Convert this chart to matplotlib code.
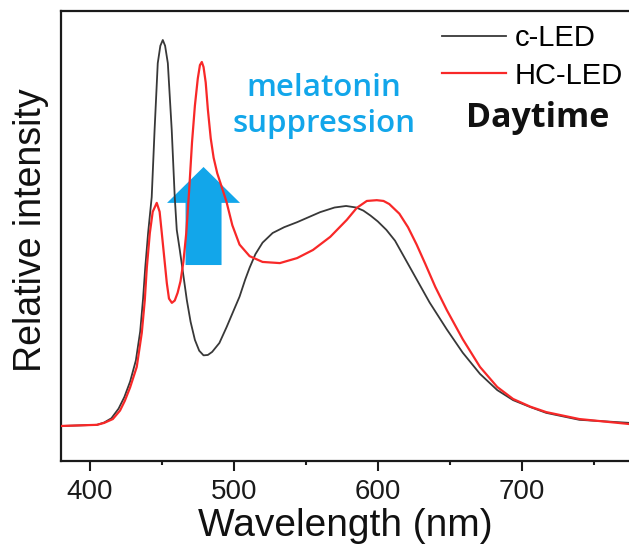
#!/usr/bin/env python3
"""Emission spectra of c-LED vs HC-LED (daytime)."""

import matplotlib
matplotlib.use('Agg')
import matplotlib.pyplot as plt

# c-LED spectrum (wavelength in nm, relative intensity)
c_led_wl = [380, 405, 410, 415, 420, 424, 428, 432, 435, 437, 438.5, 440.5, 443, 445,
            447.2, 449, 450.7, 452.3, 454.2, 456.9, 459, 460.4, 462.5, 465, 467.4, 470,
            473, 476, 479, 482, 485, 490, 495, 500, 504, 508, 511, 515, 520, 527, 535,
            544, 552, 560, 570, 578, 585, 590, 595, 600, 606, 612, 618, 624, 630, 636,
            648, 659, 671, 683, 694, 706, 717, 740, 775]
c_led_int = [0.0, 0.003, 0.009, 0.02, 0.045, 0.075, 0.115, 0.17, 0.245, 0.33, 0.41, 0.5, 0.593, 0.767,
             0.94, 0.985, 1.0, 0.985, 0.94, 0.767, 0.593, 0.508, 0.456, 0.39, 0.326, 0.27,
             0.223, 0.195, 0.183, 0.184, 0.192, 0.215, 0.256, 0.30, 0.335, 0.38, 0.41, 0.445, 0.475, 0.5, 0.515,
             0.528, 0.541, 0.554, 0.566, 0.570, 0.566, 0.558, 0.545, 0.53, 0.508, 0.48, 0.44, 0.40, 0.36, 0.32,
             0.25, 0.19, 0.135, 0.093, 0.067, 0.049, 0.034, 0.016, 0.008]

# HC-LED spectrum
hc_led_wl = [380, 405, 410, 416, 421, 424.3, 428, 432.6, 436.1, 438.2, 439.6, 441.7, 443.7,
             446.5, 448.5, 450, 453.5, 455, 457, 459, 461, 463, 465, 467, 469, 471, 473,
             475, 476.5, 477.8, 479, 480.5, 482, 484, 486, 488.5, 492, 495, 499, 504, 511,
             520, 532, 544, 555, 567, 578.5, 585.4, 592.4, 599.3, 604, 608, 615, 621, 627,
             633, 640, 648, 659, 671, 683, 694, 706, 717, 740, 775]
hc_led_int = [0.0, 0.003, 0.008, 0.018, 0.04, 0.065, 0.1, 0.153, 0.241, 0.326, 0.41, 0.5, 0.555,
              0.578, 0.555, 0.5, 0.37, 0.33, 0.319, 0.325, 0.345, 0.375, 0.425, 0.5, 0.61, 0.735, 0.83,
              0.9, 0.935, 0.943, 0.93, 0.89, 0.82, 0.745, 0.695, 0.655, 0.615, 0.58, 0.52, 0.47, 0.44,
              0.425, 0.422, 0.435, 0.456, 0.49, 0.534, 0.565, 0.583, 0.585, 0.583, 0.575, 0.55, 0.515, 0.47,
              0.42, 0.36, 0.30, 0.225, 0.153, 0.101, 0.07, 0.05, 0.036, 0.018, 0.005]

xticks = [400, 500, 600, 700]
minor_xticks = [450, 550, 650, 750]

# arrow marking the melatonin suppression band
arrow_x = 479
arrow_bottom = 0.417
arrow_top = 0.671

fig = plt.figure(figsize=(6.29, 5.48), dpi=100)
plt.rcParams['font.family'] = ['Liberation Sans', 'DejaVu Sans']
ax = fig.add_axes([61 / 629, 87 / 548, 568 / 629, 450 / 548])

ax.plot(c_led_wl, c_led_int, color='#383838', lw=1.3, label='c-LED', zorder=3)
ax.plot(hc_led_wl, hc_led_int, color='#f82828', lw=1.6, label='HC-LED', zorder=3)

ax.arrow(arrow_x, arrow_bottom, 0, arrow_top - arrow_bottom, width=25, head_width=50.7,
         head_length=0.093, length_includes_head=True, color='#12a6ea', lw=0, zorder=2)

ax.set_xlim(380, 774.5)
ax.set_ylim(-0.0907, 1.0751)
ax.set_xticks(xticks)
ax.set_xticks(minor_xticks, minor=True)
ax.set_yticks([])
ax.tick_params(axis='x', which='major', direction='out', length=7, width=1.5,
               labelsize=20, pad=6, colors='#1a1a1a')
ax.tick_params(axis='x', which='minor', direction='out', length=3, width=1.5, colors='#1a1a1a')
for side in ['left', 'bottom', 'top']:
    ax.spines[side].set_linewidth(1.6)
    ax.spines[side].set_color('#1a1a1a')
ax.spines['right'].set_visible(False)

ax.set_xlabel('Wavelength (nm)', fontsize=28, color='#111111')
ax.xaxis.set_label_coords(0.5, -0.105)
ax.set_ylabel('Relative intensity', fontsize=27, color='#111111')
ax.yaxis.set_label_coords(-0.022, 0.513)

ax.legend(loc='upper left', bbox_to_anchor=(442 / 629, 1 - 24 / 548),
          bbox_transform=fig.transFigure, frameon=False, fontsize=21,
          handlelength=2.2, handletextpad=0.3, labelspacing=0.33,
          borderpad=0, borderaxespad=0)

fig.text(324 / 629, 1 - 106 / 548, 'melatonin\nsuppression', ha='center', va='center',
         fontsize=22.5, fontweight='semibold', family='Open Sans', color='#12a6ea',
         linespacing=1.25)
fig.text(538 / 629, 1 - 118 / 548, 'Daytime', ha='center', va='center',
         fontsize=24.5, fontweight='bold', family='Open Sans', color='#111111')

fig.savefig('out.png', dpi=100)
